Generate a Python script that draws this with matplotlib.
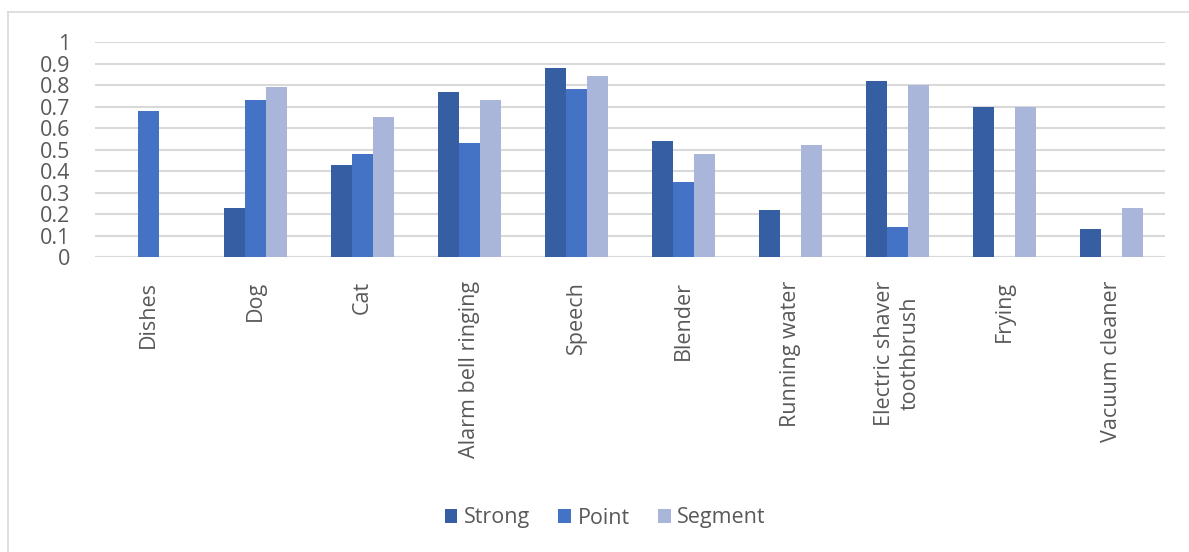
import numpy as np
import matplotlib
matplotlib.use("Agg")
import matplotlib.pyplot as plt
from matplotlib.lines import Line2D

plt.rcParams["font.family"] = ["Open Sans", "DejaVu Sans"]

# data
categories = ["Dishes", "Dog", "Cat", "Alarm bell ringing", "Speech", "Blender",
              "Running water", "Electric shaver\ntoothbrush", "Frying", "Vacuum cleaner"]
strong = [np.nan, 0.23, 0.43, 0.77, 0.88, 0.54, 0.22, 0.82, 0.70, 0.13]
point = [0.68, 0.73, 0.48, 0.53, 0.78, 0.35, np.nan, 0.14, np.nan, np.nan]
segment = [np.nan, 0.79, 0.65, 0.73, 0.84, 0.48, 0.52, 0.80, 0.70, 0.23]
yticks = [0, 0.1, 0.2, 0.3, 0.4, 0.5, 0.6, 0.7, 0.8, 0.9, 1]
ytick_labels = ["0", "0.1", "0.2", "0.3", "0.4", "0.5", "0.6", "0.7", "0.8", "0.9", "1"]

colors = ["#365fa3", "#4472c4", "#a9b6da"]
text_color = "#595959"
fs = 15.5

fig = plt.figure(figsize=(11.89, 5.52), dpi=100)
ax = fig.add_axes([0.0799, 0.5339, 0.8999, 0.3900])

x = np.arange(len(categories))
w = 0.196
ax.bar(x - w, strong, w, color=colors[0], label="Strong", zorder=3)
ax.bar(x, point, w, color=colors[1], label="Point", zorder=3)
ax.bar(x + w, segment, w, color=colors[2], label="Segment", zorder=3)

ax.set_xlim(-0.5, len(categories) - 0.5)
ax.set_ylim(0, 1)
ax.set_yticks(yticks)
ax.set_yticklabels(ytick_labels, fontsize=fs, color=text_color)
ax.set_xticks(x)
ax.set_xticklabels(categories, rotation=90, fontsize=fs, color=text_color,
                   va="top", ha="center", multialignment="center",
                   linespacing=1.25)
ax.tick_params(axis="both", length=0)
ax.tick_params(axis="y", pad=18)
ax.tick_params(axis="x", pad=17)

ax.grid(axis="y", color="#d9d9d9", linewidth=1.5, zorder=0)
for s in ax.spines.values():
    s.set_visible(False)
ax.axhline(0, color="#d9d9d9", linewidth=1.5, zorder=1)

ax.legend(loc="center", bbox_to_anchor=(605 / 1189, 1 - 518 / 552),
          bbox_transform=fig.transFigure, ncol=3, frameon=False,
          fontsize=fs, labelcolor=text_color, handlelength=0.6, handleheight=0.6,
          handletextpad=0.3, columnspacing=1.3)

# outer chart border
fig.add_artist(Line2D([7.5 / 1189, 7.5 / 1189], [0, 1 - 12 / 552],
                      transform=fig.transFigure, color="#d9d9d9", linewidth=1.2))
fig.add_artist(Line2D([7.5 / 1189, 1], [1 - 12 / 552, 1 - 12 / 552],
                      transform=fig.transFigure, color="#d9d9d9", linewidth=1.2))

fig.savefig("out.png", dpi=100, facecolor="white")
